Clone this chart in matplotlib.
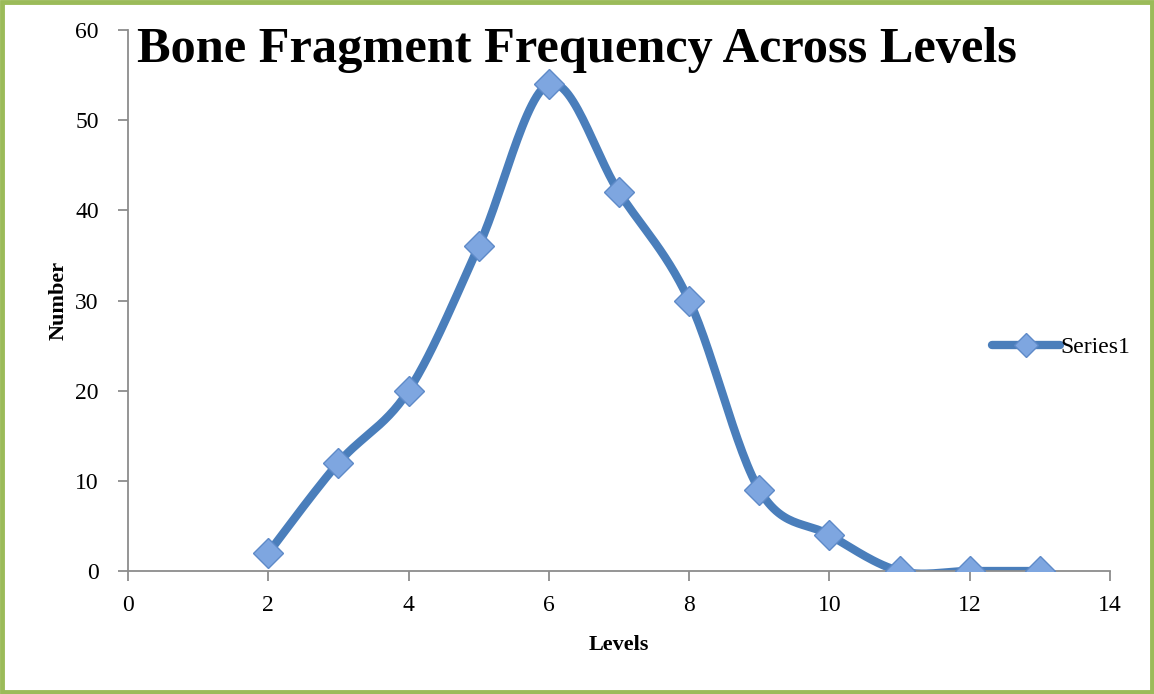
import numpy as np
import matplotlib.pyplot as plt
from matplotlib.patches import Rectangle

# data
levels = [2, 3, 4, 5, 6, 7, 8, 9, 10, 11, 12, 13]
counts = [2, 12, 20, 36, 54, 42, 30, 9, 4, 0, 0, 0]

x_ticks = [0, 2, 4, 6, 8, 10, 12, 14]
y_ticks = [0, 10, 20, 30, 40, 50, 60]


def smooth(xs, ys, n=30):
    """catmull-rom curve through the points (like excel's smoothed line)"""
    p = np.column_stack([xs, ys]).astype(float)
    p = np.vstack([p[0], p, p[-1]])
    out = []
    for i in range(1, len(p) - 2):
        p0, p1, p2, p3 = p[i - 1], p[i], p[i + 1], p[i + 2]
        t = np.linspace(0, 1, n)[:, None]
        c = 0.5 * ((2 * p1) + (-p0 + p2) * t + (2 * p0 - 5 * p1 + 4 * p2 - p3) * t ** 2
                   + (-p0 + 3 * p1 - 3 * p2 + p3) * t ** 3)
        out.append(c)
    c = np.vstack(out)
    return c[:, 0], c[:, 1]


plt.rcParams['font.family'] = ['Liberation Serif', 'DejaVu Serif']

fig = plt.figure(figsize=(11.54, 6.94), dpi=100)
ax = fig.add_axes([0.1109, 0.1772, 0.851, 0.7796])

line_color = '#4A7EBB'
sx, sy = smooth(levels, counts)
ax.plot(sx, sy, color=line_color, lw=6, solid_capstyle='round', zorder=2)
ax.plot(levels, counts, ls='none', marker='D', ms=15, mfc='#7EA6E0',
        mec='#5E8AC8', mew=1.0, zorder=3)

# legend entry
ax.plot([], [], color=line_color, lw=6, marker='D', ms=12, mfc='#7EA6E0',
        mec='#5E8AC8', label='Series1', solid_capstyle='round')
leg = ax.legend(loc='center left', bbox_to_anchor=(0.87, 0.414), frameon=False,
                fontsize=17, handlelength=2.9, handletextpad=0.0, borderaxespad=0)

ax.set_xlim(0, 14)
ax.set_ylim(0, 60)
ax.set_xticks(x_ticks)
ax.set_yticks(y_ticks)
ax.tick_params(labelsize=17, length=7, width=1.3, color='#8C8C8C', direction='out')
ax.tick_params(axis='x', pad=10)
ax.tick_params(axis='y', pad=14)

for s in ['top', 'right']:
    ax.spines[s].set_visible(False)
for s in ['left', 'bottom']:
    ax.spines[s].set_color('#8C8C8C')
    ax.spines[s].set_linewidth(1.3)

ax.set_xlabel('Levels', fontsize=16, fontweight='bold', labelpad=14)
ax.set_ylabel('Number', fontsize=16, fontweight='bold', labelpad=5)

fig.text(0.119, 0.928, 'Bone Fragment Frequency Across Levels', fontsize=36.3,
         fontweight='bold', ha='left', va='center')

# green frame around the chart
fig.patches.append(Rectangle((0.002, 0.003), 0.996, 0.994, transform=fig.transFigure,
                             fill=False, edgecolor='#9BBB59', lw=3.5))

fig.savefig('out.png', dpi=100)
